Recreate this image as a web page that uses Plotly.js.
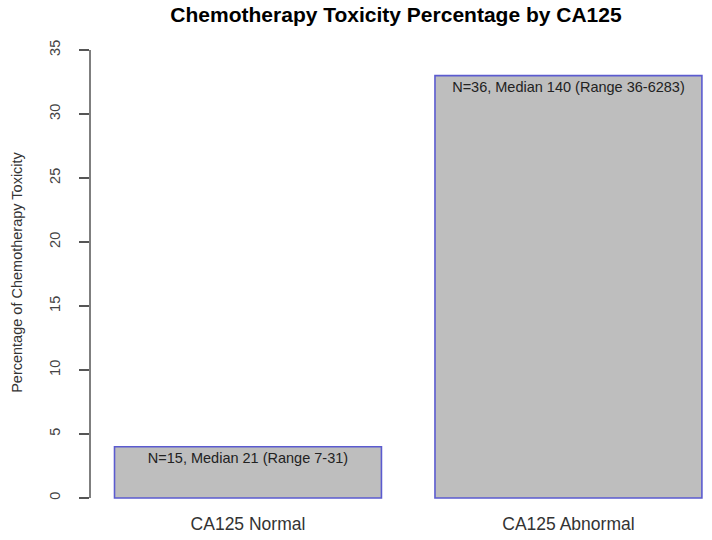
<!DOCTYPE html>
<html>
<head>
<meta charset="utf-8">
<script src="https://cdn.plot.ly/plotly-3.0.1.min.js"></script>
<style>html,body{margin:0;padding:0;background:#fff;}</style>
</head>
<body>
<div id="chart" style="width:712px;height:540px;"></div>
<script>
// Data
const categories = ["CA125 Normal", "CA125 Abnormal"];
const toxicityPct = [4, 33];
const barLabels = ["N=15, Median 21 (Range 7-31)", "N=36, Median 140 (Range 36-6283)"];
const yTicks = [0, 5, 10, 15, 20, 25, 30, 35];

const trace = {
  type: "bar",
  x: categories,
  y: toxicityPct,
  width: 0.833,
  marker: { color: "#bebebe", line: { color: "#5b5bcf", width: 1.6 } },
  text: barLabels,
  textposition: "inside",
  insidetextanchor: "end",
  textangle: 0,
  constraintext: "none",
  textfont: { family: "Liberation Sans, Arial, sans-serif", size: 14.5, color: "#222" },
  hoverinfo: "skip"
};

const layout = {
  width: 712,
  height: 540,
  margin: { l: 90, r: 0, t: 40, b: 35 },
  paper_bgcolor: "#fff",
  plot_bgcolor: "#fff",
  showlegend: false,
  font: { family: "Liberation Sans, Arial, sans-serif", color: "#333" },
  title: {
    text: "<b>Chemotherapy Toxicity Percentage by CA125</b>",
    font: { family: "Liberation Sans, Arial, sans-serif", size: 21, color: "#000" },
    x: 396 / 712, xref: "container", xanchor: "center",
    y: 1 - 15 / 540, yref: "container", yanchor: "middle"
  },
  xaxis: {
    type: "category",
    range: [-0.493, 1.448],
    showline: false, showgrid: false, zeroline: false,
    ticks: "",
    tickfont: { size: 17.5, color: "#333" },
    ticklabelstandoff: 6,
    automargin: false
  },
  yaxis: {
    range: [-0.547, 35.78],
    tickvals: yTicks,
    ticktext: yTicks.map(String),
    tickangle: -90,
    ticks: "outside",
    ticklen: 10,
    tickwidth: 1.5,
    tickcolor: "#555",
    tickfont: { size: 14.5, color: "#444" },
    ticklabelstandoff: 13,
    showline: false, showgrid: false, zeroline: false,
    automargin: false,
    title: {
      text: "Percentage of Chemotherapy Toxicity",
      font: { size: 14.5, color: "#333" },
      standoff: 21
    }
  },
  shapes: [{
    type: "line", xref: "paper", yref: "y",
    x0: 0, x1: 0, y0: yTicks[0], y1: yTicks[yTicks.length - 1],
    line: { color: "#555", width: 1.5 }
  }]
};

Plotly.newPlot("chart", [trace], layout, { displayModeBar: false, staticPlot: true });
</script>
</body>
</html>
